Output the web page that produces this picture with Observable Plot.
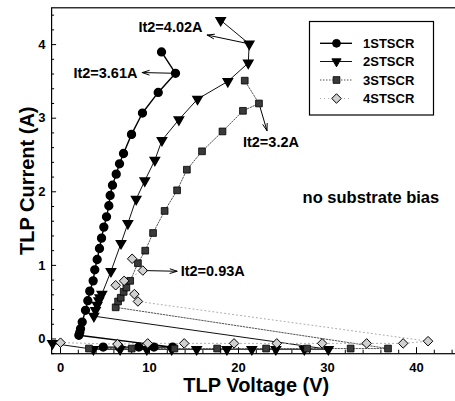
<!DOCTYPE html>
<html><head><meta charset="utf-8">
<script src="https://cdn.jsdelivr.net/npm/d3@7"></script>
<script src="https://cdn.jsdelivr.net/npm/@observablehq/plot@0.6"></script>
<style>
html,body{margin:0;padding:0;background:#fff;}
#chart{position:relative;width:455px;height:401px;overflow:hidden;}
</style></head><body><div id="chart"></div>
<script>
// ---- data (TLP voltage V, TLP current A), in measurement order ----
const series = ["1STSCR", "2STSCR", "3STSCR", "4STSCR"];

const v1 = [4.8, 6.6, 8.8, 10.5, 12.6,
  2.06, 2.17, 2.25, 2.44, 2.81, 3.07, 3.29, 3.67, 3.85, 4.12, 4.38, 4.61, 4.87, 5.17, 5.43,
  5.58, 5.84, 6.26, 6.63, 7.08, 7.98, 9.21, 10.98, 12.92, 11.35];
const i1 = [-0.11, -0.11, -0.11, -0.11, -0.11,
  0.05, 0.09, 0.14, 0.23, 0.39, 0.52, 0.65, 0.79, 0.94, 1.08, 1.23, 1.37, 1.52, 1.66, 1.81,
  1.95, 2.09, 2.24, 2.38, 2.52, 2.78, 3.07, 3.35, 3.61, 3.90];

const v2 = [-0.9, 3.7, 6.7, 9.7, 12.5, 15.3, 18.7, 21.5, 24.2, 27.4, 30.1,
  3.75, 3.93, 4.12, 4.3, 4.42, 4.65, 5.67, 6.8, 7.57, 8.5, 9.47, 10.6, 11.4, 13.3, 15.4, 18.8, 21.1, 21.2, 18.0];
const i2 = [-0.06, -0.14, -0.14, -0.14, -0.14, -0.14, -0.14, -0.14, -0.14, -0.14, -0.14,
  0.31, 0.39, 0.46, 0.52, 0.56, 0.61, 0.92, 1.30, 1.57, 1.90, 2.15, 2.43, 2.70, 2.98, 3.26, 3.50, 3.75, 4.01, 4.33];

const v3 = [3.2, 8.0, 12.8, 17.6, 23.1, 27.7, 32.6, 36.8,
  6.2, 6.47, 6.77, 7.1, 7.4, 7.83, 8.7, 9.52, 10.4, 11.7, 13.1, 14.2, 15.9, 18.2, 20.5, 22.3, 20.7];
const i3 = [-0.13, -0.13, -0.13, -0.13, -0.13, -0.13, -0.13, -0.13,
  0.43, 0.51, 0.56, 0.64, 0.70, 0.79, 1.03, 1.20, 1.44, 1.74, 2.02, 2.30, 2.55, 2.82, 3.10, 3.20, 3.51];

const v4 = [0, 6.4, 9.8, 13.9, 19.5, 24.3, 29.4, 34.4, 38.5, 41.3,
  8.7, 8.3, 6.2, 7.15, 9.25, 8.05];
const i4 = [-0.05, -0.07, -0.06, -0.06, -0.06, -0.06, -0.06, -0.06, -0.06, -0.03,
  0.51, 0.61, 0.73, 0.79, 0.93, 1.09];

// It2 annotations: failure point, arrow tip, text anchor point
const annLabels = ["It2=3.61A", "It2=4.02A", "It2=3.2A", "It2=0.93A"];
const annFromV = [12.92, 21.2, 22.3, 9.25];
const annFromI = [3.61, 4.01, 3.20, 0.93];
const annTipV = [9.18, 16.48, 23.2, 13.1];
const annTipI = [3.62, 4.13, 2.83, 0.92];
const annTextV = [8.65, 15.96, 20.5, 13.5];
const annTextI = [3.61, 4.24, 2.67, 0.92];
const annAnchor = ["end", "end", "start", "start"];

const note = "no substrate bias";
const noteV = 27.2, noteI = 1.92;

const xTitle = "TLP Voltage (V)";
const yTitle = "TLP Current (A)";
const xTickLabels = [0, 10, 20, 30, 40];
const yTickLabels = [0, 1, 2, 3, 4];
const xMinorTicks = [0, 2, 4, 6, 8, 12, 14, 16, 18, 22, 24, 26, 28, 32, 34, 36, 38, 42, 44];
const yMinorTicks = [-0.2, 0.2, 0.4, 0.6, 0.8, 1.2, 1.4, 1.6, 1.8, 2.2, 2.4, 2.6, 2.8, 3.2, 3.4, 3.6, 3.8, 4.2, 4.4];

// ---- build tables ----
const vs = [v1, v2, v3, v4], is = [i1, i2, i3, i4];
const rows = [];
series.forEach((s, k) => vs[k].forEach((v, j) => rows.push({s, V: v, I: is[k][j]})));
const bySeries = s => rows.filter(d => d.s === s);
const ann = annLabels.map((t, k) => ({t, fv: annFromV[k], fi: annFromI[k], tv: annTipV[k], ti: annTipI[k],
  xv: annTextV[k], xi: annTextI[k], a: annAnchor[k]}));

// ---- styles ----
const FONT = "'Liberation Sans', Arial, Helvetica, sans-serif";
const sty = {
  "1STSCR": {line: {stroke: "#000", strokeWidth: 1.4}, dot: {symbol: "circle", r: 3.9, fill: "#000", stroke: "#000"}},
  "2STSCR": {line: {stroke: "#111", strokeWidth: 1}, dot: {symbol: "triangle", r: 3.4, fill: "#000", stroke: "#000", rotate: 180}},
  "3STSCR": {line: {stroke: "#555", strokeWidth: 1, strokeDasharray: "1.5,1.5"}, dot: {symbol: "square", r: 3.8, fill: "#3a3a3a", stroke: "#000", strokeWidth: 0.8}},
  "4STSCR": {line: {stroke: "#aaa", strokeWidth: 1, strokeDasharray: "1,3"}, dot: {symbol: "diamond2", r: 4.3, fill: "#d0d0d0", stroke: "#000", strokeWidth: 1}}
};

const ML = 51.1, MT = 7.3, MB = 401 - 353.2, MR = 455 - 460.5;
const W = 460.5 - ML, H = 353.2 - MT;
const yMid = (-0.2 + 4.5) / 2;

const chart = Plot.plot({
  width: 455, height: 401,
  marginLeft: ML, marginRight: MR, marginTop: MT, marginBottom: MB,
  x: {domain: [-1, 45], range: [ML, 460.5], axis: null},
  y: {domain: [-0.2, 4.5], range: [353.2, MT], axis: null},
  style: {fontFamily: FONT, background: "#fff"},
  marks: [
    Plot.frame({stroke: "#000", strokeWidth: 1.2}),
    Plot.tickY(yMinorTicks, {y: d => d, insetRight: W - 3, stroke: "#000"}),
    Plot.tickY(yTickLabels, {y: d => d, insetRight: W - 5, stroke: "#000"}),
    Plot.tickX(xMinorTicks, {x: d => d, insetTop: H - 3.5, stroke: "#000"}),
    Plot.tickX(xTickLabels, {x: d => d, insetTop: H - 6, stroke: "#000"}),
    Plot.text(yTickLabels, {y: d => d, text: d => String(d), frameAnchor: "left", dx: -6, textAnchor: "end",
      fontSize: 13, fontWeight: "bold", fill: "#000"}),
    Plot.text(xTickLabels, {x: d => d, text: d => String(d), frameAnchor: "bottom", dy: 14, lineAnchor: "middle",
      fontSize: 13, fontWeight: "bold", fill: "#000"}),
    Plot.text([xTitle], {frameAnchor: "bottom", dy: 32, lineAnchor: "middle", textAnchor: "middle",
      fontSize: 20, fontWeight: "bold", fill: "#000"}),
    Plot.text([yTitle], {y: () => yMid, frameAnchor: "left", dx: -24, rotate: -90, lineAnchor: "middle",
      textAnchor: "middle", fontSize: 20, fontWeight: "bold", fill: "#000"}),
    ...series.map(s => Plot.line(bySeries(s), {x: "V", y: "I", ...sty[s].line})),
    ...series.map(s => Plot.dot(bySeries(s), {x: "V", y: "I", ...sty[s].dot})),
    Plot.arrow(ann, {x1: "fv", y1: "fi", x2: "tv", y2: "ti", stroke: "#000", strokeWidth: 1,
      headLength: 11, headAngle: 36, insetStart: 4}),
    Plot.text(ann.filter(d => d.a === "end"), {x: "xv", y: "xi", text: "t", textAnchor: "end",
      fontSize: 14.5, fontWeight: "bold", fill: "#000"}),
    Plot.text(ann.filter(d => d.a === "start"), {x: "xv", y: "xi", text: "t", textAnchor: "start",
      fontSize: 14.5, fontWeight: "bold", fill: "#000"}),
    Plot.text([note], {x: noteV, y: noteI, text: d => d, textAnchor: "start",
      fontSize: 16.5, fontWeight: "bold", fill: "#000"})
  ]
});
document.getElementById("chart").appendChild(chart);

// ---- legend (drawn inside the plot's SVG) ----
const svg = d3.select(chart);
const lg = svg.append("g").attr("font-family", FONT).attr("text-anchor", "start");
lg.append("rect").attr("x", 309.5).attr("y", 21.5).attr("width", 124).attr("height", 93.5)
  .attr("fill", "#fff").attr("stroke", "#000").attr("stroke-width", 1.2);
const legY = [43.3, 61.5, 80, 98.5];
const symMap = {circle: d3.symbolCircle, triangle: d3.symbolTriangle, square: d3.symbolSquare, diamond2: d3.symbolDiamond2};
series.forEach((s, k) => {
  const y = legY[k], st = sty[s];
  const ln = lg.append("line").attr("x1", 320).attr("x2", 352).attr("y1", y).attr("y2", y)
    .attr("stroke", st.line.stroke).attr("stroke-width", st.line.strokeWidth);
  if (st.line.strokeDasharray) ln.attr("stroke-dasharray", st.line.strokeDasharray);
  const r = st.dot.r;
  lg.append("path").attr("d", d3.symbol(symMap[st.dot.symbol], Math.PI * r * r)())
    .attr("transform", `translate(336.5,${y}) rotate(${st.dot.rotate || 0})`)
    .attr("fill", st.dot.fill).attr("stroke", st.dot.stroke).attr("stroke-width", st.dot.strokeWidth || 1);
  lg.append("text").attr("x", 363).attr("y", y).attr("dy", "0.36em").attr("font-size", 13)
    .attr("text-anchor", "start").attr("font-weight", "bold").attr("fill", "#000").text(s);
});
</script></body></html>
